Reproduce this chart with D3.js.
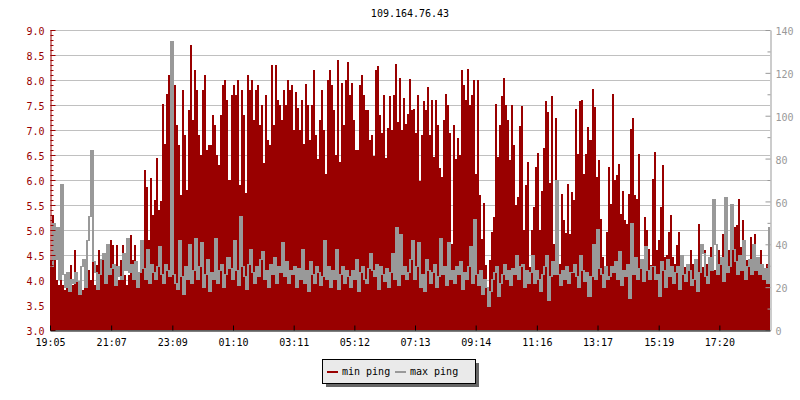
<!DOCTYPE html>
<html><head><meta charset="utf-8">
<script src="https://cdn.jsdelivr.net/npm/d3@7"></script>
<style>
body{margin:0;background:#fff}
svg{display:block}
text{font-family:"DejaVu Sans Mono",monospace;font-size:10px}
</style>
</head><body><svg id="c" width="800" height="400"></svg>
<script>
const title = "109.164.76.43";
const seriesNames = ["min ping", "max ping"];
const startClock = "19:05";
const stepMinutes = 4;
const xTickLabels = ["19:05","21:07","23:09","01:10","03:11","05:12","07:13","09:14","11:16","13:17","15:19","17:20"];
const leftTicks = [3.0,3.5,4.0,4.5,5.0,5.5,6.0,6.5,7.0,7.5,8.0,8.5,9.0];
const rightTicks = [0,20,40,60,80,100,120,140];

const minPing = [
 4.4,5.3,4.6,4.0,3.9,4.2,3.9,3.8,4.1,3.9,
 4.3,3.9,4.6,4.0,3.9,4.1,3.8,4.0,4.4,4.2,
 4.0,4.5,3.9,4.3,4.6,4.1,4.4,4.0,4.2,4.1,
 4.8,4.7,4.2,4.7,4.0,4.4,4.7,4.1,3.9,4.1,
 4.9,4.4,4.7,4.2,4.1,4.4,4.3,6.2,5.86,4.8,
 6.04,5.3,5.6,6.44,5.4,5.58,7.52,6.73,7.72,8.1,
 7.17,6.2,7.9,7.1,6.7,5.7,7.8,6.9,5.8,7.4,
 8.7,7.2,8.2,7.8,6.9,6.5,7.8,8.1,6.6,6.7,
 6.7,7.3,7.1,6.5,6.3,7.3,7.9,8.0,7.6,6.0,
 7.7,7.9,7.7,8.0,5.9,7.8,7.3,5.75,8.1,7.8,
 8.0,7.2,7.8,7.9,7.1,7.5,6.35,7.7,6.8,6.7,
 8.3,7.1,8.3,7.6,7.5,7.2,7.8,7.5,8.0,7.8,
 7.9,7.0,7.77,7.45,7.0,7.6,6.73,7.93,7.5,6.8,
 7.5,8.21,6.9,6.43,7.2,7.8,7.0,6.13,8.0,8.21,
 7.9,7.4,6.5,8.41,6.37,7.95,7.1,8.0,8.36,7.7,
 7.95,7.2,6.6,6.6,7.9,8.1,7.7,7.4,7.4,6.8,
 6.9,6.48,8.2,8.28,7.3,6.95,7.7,6.45,7.05,7.68,
 7.0,7.7,8.32,7.17,8.05,7.0,7.65,7.13,7.33,8.03,
 7.4,7.42,6.95,7.7,5.99,6.9,7.58,7.4,7.87,6.9,
 7.6,6.47,7.6,7.1,6.25,6.07,7.2,7.72,7.5,6.95,
 4.73,7.1,6.43,6.85,6.5,8.2,7.9,7.6,8.23,7.5,
 7.7,8.0,6.13,8.0,5.7,4.83,5.55,4.3,3.75,4.4,
 4.97,5.27,7.52,6.47,7.1,7.68,8.05,7.5,7.2,6.4,
 7.5,6.7,5.5,5.67,7.08,7.48,5.0,5.9,6.37,4.27,
 5.0,5.47,6.27,6.55,5.0,5.79,6.65,7.59,7.37,5.95,
 7.68,4.73,7.25,4.4,4.33,5.73,5.2,4.95,5.92,4.92,
 5.77,5.6,7.43,6.53,7.59,7.6,6.13,6.53,7.07,6.8,
 7.83,7.47,6.07,6.4,5.23,4.47,3.93,4.97,6.27,5.53,
 7.73,6.0,6.1,6.33,5.33,5.79,5.2,5.13,5.73,7.03,
 7.25,5.7,5.63,6.52,4.4,4.07,5.27,5.0,4.63,4.3,
 6.03,6.57,4.6,4.8,5.47,6.3,4.47,4.5,4.97,5.3,
 4.47,4.33,4.7,4.97,4.4,4.2,4.27,4.3,4.33,4.6,
 4.33,4.27,4.4,5.13,4.2,4.27,4.6,4.33,4.07,4.67,
 4.33,4.2,4.4,4.6,4.4,4.93,4.73,4.47,4.6,4.8,
 5.23,5.07,5.1,5.63,4.67,5.2,4.33,4.4,4.33,4.87,
 4.4,4.92,4.4,4.33,4.6,4.2,4.2,4.33,5.0,4.33
];

const maxPing = [
 30,50,33,48,24,68,26,20,27,18,
 24,22,27,23,17,30,33,20,42,53,
 84,32,27,19,26,33,36,22,40,26,
 29,31,21,30,25,24,36,28,43,27,
 31,24,32,20,27,42,29,24,38,22,
 31,27,24,30,39,26,22,31,28,25,
 135,26,22,19,42,25,17,30,24,40,
 22,28,43,24,30,41,20,26,33,18,
 27,24,43,22,28,31,20,26,34,29,
 24,42,28,21,53,30,25,19,31,38,
 27,22,30,25,33,37,24,28,20,31,
 26,34,22,30,27,41,25,32,22,28,
 26,30,20,29,24,38,22,28,18,32,
 26,22,30,27,21,25,42,24,30,20,
 28,24,38,19,26,30,22,28,25,20,
 28,24,33,18,27,30,24,22,29,36,
 28,25,31,19,30,26,23,29,20,27,
 36,24,48,21,45,26,30,24,27,33,
 42,24,30,41,20,26,18,33,28,22,
 27,31,20,25,43,26,30,21,41,24,
 28,22,30,26,32,19,27,24,30,39,
 22,52,26,21,28,17,24,20,11,18,
 24,27,30,16,22,26,31,24,28,21,
 29,26,35,24,30,31,20,28,22,27,
 35,22,28,24,18,26,30,35,14,25,
 32,26,70,26,21,28,24,30,22,27,
 27,31,25,20,35,28,23,27,16,25,
 40,24,47,29,26,20,30,24,25,30,
 27,32,24,37,21,28,25,31,15,50,
 26,34,24,29,33,23,39,28,24,30,
 30,24,26,16,32,28,20,33,25,30,
 22,27,30,19,35,26,23,31,28,21,
 24,33,18,27,40,36,25,22,34,28,
 61,40,26,31,34,23,62,27,30,59,
 38,32,26,35,28,42,24,30,33,26,
 40,28,34,26,31,24,29,22,48,30
];

const RED = "#990000", GRAY = "#999999", GRID = "#c0c0c0";
const M = {left: 50, right: 770, top: 30, bottom: 330};
const svg = d3.select("#c");

const [sh, sm] = startClock.split(":").map(Number);
const t0 = new Date(2024, 0, 1, sh, sm);
const minute = 60000;
const times = minPing.map((_, i) => new Date(+t0 + i * stepMinutes * minute));
const tEnd = new Date(+t0 + 1436 * minute);

const x = d3.scaleTime().domain([t0, tEnd]).range([M.left, M.right]);
const yL = d3.scaleLinear().domain([3, 9]).range([M.bottom, M.top]);
const yR = d3.scaleLinear().domain([0, 140]).range([M.bottom, M.top]);

const tickTimes = xTickLabels.map(s => {
  const [h, m] = s.split(":").map(Number);
  let d = new Date(2024, 0, 1, h, m);
  if (d < t0) d = new Date(+d + 24 * 60 * minute);
  return d;
});

svg.append("defs").append("clipPath").attr("id", "plot")
  .append("rect").attr("x", M.left).attr("y", M.top - 20)
  .attr("width", M.right - M.left).attr("height", M.bottom - M.top + 20);

// grid
svg.append("g").selectAll("line").data(leftTicks).join("line")
  .attr("x1", M.left).attr("x2", M.right)
  .attr("y1", d => Math.round(yL(d)) + 0.5).attr("y2", d => Math.round(yL(d)) + 0.5)
  .attr("stroke", GRID).attr("stroke-width", 1);

// min ping (step bars)
const pts = minPing.map((v, i) => ({t: times[i], v}));
pts.push({t: new Date(+times[times.length - 1] + stepMinutes * minute), v: minPing[minPing.length - 1]});
const area = d3.area().curve(d3.curveStepAfter)
  .x(d => x(d.t)).y0(yL(3)).y1(d => yL(d.v));
svg.append("path").attr("clip-path", "url(#plot)")
  .datum(pts).attr("d", area).attr("fill", RED).attr("shape-rendering", "crispEdges");

// max ping: step line drawn as vertical runs per sample column
const runs = maxPing.map((v, i) => {
  const prev = i > 0 ? maxPing[i - 1] : v;
  return {t: times[i], lo: Math.min(prev, v), hi: Math.max(prev, v)};
});
svg.append("g").attr("clip-path", "url(#plot)")
  .selectAll("rect").data(runs).join("rect")
  .attr("x", d => Math.round(x(d.t)))
  .attr("width", d => Math.round(x(new Date(+d.t + stepMinutes * minute))) - Math.round(x(d.t)))
  .attr("y", d => Math.round(yR(d.hi)))
  .attr("height", d => Math.max(1, Math.round(yR(d.lo)) - Math.round(yR(d.hi)) + 1))
  .attr("fill", GRAY).attr("shape-rendering", "crispEdges");

// left axis
const leftMinor = d3.range(30, 91).map(d => d / 10).filter(d => Math.round(d * 10) % 5 !== 0);
const gL = svg.append("g").attr("transform", `translate(${M.left + 0.5},0)`);
gL.call(d3.axisLeft(yL).tickValues(leftTicks).tickSize(-5).tickSizeOuter(0).tickPadding(6).tickFormat(d3.format(".1f")));
gL.append("g").call(d3.axisLeft(yL).tickValues(leftMinor).tickSize(-3).tickSizeOuter(0).tickFormat(""))
  .select(".domain").remove();
gL.selectAll("line,path").attr("stroke", RED);
gL.selectAll("text").attr("fill", RED).attr("dy", "0.47em").style("font-size", "10px").style("font-family", '"DejaVu Sans Mono",monospace');

// right axis
const rightMinor = d3.range(10, 140, 20);
const gR = svg.append("g").attr("transform", `translate(${M.right + 0.5},0)`);
gR.call(d3.axisRight(yR).tickValues(rightTicks).tickSize(-5).tickSizeOuter(0).tickPadding(5));
gR.append("g").call(d3.axisRight(yR).tickValues(rightMinor).tickSize(-3).tickSizeOuter(0).tickFormat(""))
  .select(".domain").remove();
gR.selectAll("line,path").attr("stroke", GRAY);
gR.selectAll("text").attr("fill", GRAY).attr("dy", "0.47em").style("font-size", "10px").style("font-family", '"DejaVu Sans Mono",monospace');

// x axis
const gX = svg.append("g").attr("transform", `translate(0,${M.bottom + 0.5})`);
gX.call(d3.axisBottom(x).tickValues(tickTimes).tickSize(-5).tickSizeOuter(0).tickPadding(8)
  .tickFormat((d, i) => xTickLabels[i]));
gX.selectAll("line,path").attr("stroke", "#000");
gX.selectAll("text").attr("fill", "#000").style("font-size", "10px").style("font-family", '"DejaVu Sans Mono",monospace');

// title
svg.append("text").attr("x", (M.left + M.right) / 2).attr("y", 17)
  .attr("text-anchor", "middle").attr("fill", "#000").text(title);

// legend
const lg = svg.append("g");
lg.append("rect").attr("x", 326).attr("y", 363).attr("width", 153).attr("height", 24).attr("fill", "#666");
lg.append("rect").attr("x", 322.5).attr("y", 359.5).attr("width", 153).attr("height", 24)
  .attr("fill", "#eaeaea").attr("stroke", "#000").attr("stroke-width", 1);
const legendColors = [RED, GRAY];
const legendX = [327, 395];
seriesNames.forEach((name, i) => {
  lg.append("line").attr("x1", legendX[i]).attr("x2", legendX[i] + 11)
    .attr("y1", 372).attr("y2", 372).attr("stroke", legendColors[i]).attr("stroke-width", 2);
  lg.append("text").attr("x", legendX[i] + 15).attr("y", 374.5).attr("fill", "#000").text(name);
});
</script>
</body></html>
